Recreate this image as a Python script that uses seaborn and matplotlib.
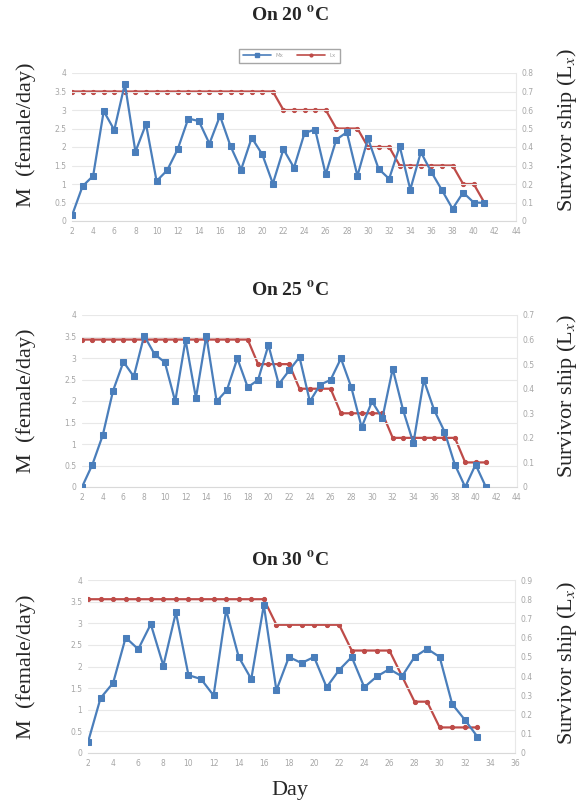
import numpy as np
import pandas as pd
import seaborn as sns
import matplotlib.pyplot as plt
from matplotlib.lines import Line2D
from matplotlib.ticker import FuncFormatter

# Data
days_20 = list(range(2, 42))
mx_20 = [0.15, 0.94, 1.22, 2.97, 2.46, 3.71, 1.87, 2.62, 1.08, 1.37,
         1.94, 2.77, 2.70, 2.09, 2.84, 2.02, 1.39, 2.25, 1.80, 1.01,
         1.94, 1.44, 2.38, 2.47, 1.26, 2.20, 2.40, 1.22, 2.23, 1.41,
         1.14, 2.02, 0.85, 1.86, 1.32, 0.83, 0.33, 0.77, 0.50, 0.49]
lx_20 = [0.7, 0.7, 0.7, 0.7, 0.7, 0.7, 0.7, 0.7, 0.7, 0.7,
         0.7, 0.7, 0.7, 0.7, 0.7, 0.7, 0.7, 0.7, 0.7, 0.7,
         0.6, 0.6, 0.6, 0.6, 0.6, 0.5, 0.5, 0.5, 0.4, 0.4,
         0.4, 0.3, 0.3, 0.3, 0.3, 0.3, 0.3, 0.2, 0.2, 0.1]

days_25 = list(range(2, 42))
mx_25 = [0.0, 0.52, 1.20, 2.24, 2.91, 2.57, 3.52, 3.09, 2.90, 1.99,
         3.42, 2.07, 3.52, 1.99, 2.26, 2.99, 2.32, 2.49, 3.30, 2.39,
         2.71, 3.02, 1.99, 2.38, 2.49, 2.99, 2.32, 1.39, 1.99, 1.60,
         2.75, 1.79, 1.02, 2.49, 1.79, 1.29, 0.52, 0.0, 0.52, 0.0]
lx_25 = [0.6, 0.6, 0.6, 0.6, 0.6, 0.6, 0.6, 0.6, 0.6, 0.6,
         0.6, 0.6, 0.6, 0.6, 0.6, 0.6, 0.6, 0.5, 0.5, 0.5,
         0.5, 0.4, 0.4, 0.4, 0.4, 0.3, 0.3, 0.3, 0.3, 0.3,
         0.2, 0.2, 0.2, 0.2, 0.2, 0.2, 0.2, 0.1, 0.1, 0.1]

days_30 = list(range(2, 34))
mx_30 = [0.25, 1.27, 1.62, 2.67, 2.40, 2.98, 2.02, 3.25, 1.80, 1.71,
         1.33, 3.31, 2.22, 1.71, 3.42, 1.45, 2.22, 2.08, 2.22, 1.52,
         1.92, 2.22, 1.52, 1.77, 1.94, 1.77, 2.22, 2.41, 2.22, 1.13,
         0.77, 0.38]
lx_30 = [0.8, 0.8, 0.8, 0.8, 0.8, 0.8, 0.8, 0.8, 0.8, 0.8,
         0.8, 0.8, 0.8, 0.8, 0.8, 0.667, 0.667, 0.667, 0.667, 0.667,
         0.667, 0.533, 0.533, 0.533, 0.533, 0.4, 0.267, 0.267, 0.133, 0.133,
         0.133, 0.133]

titles = ["20", "25", "30"]
x_max = [44, 44, 36]
lx_max = [0.8, 0.7, 0.9]

sns.set_style("white")
plt.rcParams['mathtext.fontset'] = 'stix'

blue = '#4A7EBB'
red = '#BE4B48'
grey = '#A6A6A6'
serif = 'Liberation Serif'

W, H = 579, 802
fig = plt.figure(figsize=(W / 100, H / 100), dpi=100)

# axes boxes in pixels: left, top, right, bottom
boxes = [(72, 73, 516, 221), (82, 315, 517, 487), (88, 580, 515, 753)]
panels = [(days_20, mx_20, lx_20), (days_25, mx_25, lx_25), (days_30, mx_30, lx_30)]
title_y = [15, 290, 560]
label_bottom = [207, 473, 739]
right_bottom = [212, 478, 745]

fmt = FuncFormatter(lambda v, p: f"{v:g}")

for i, (days, mx, lx) in enumerate(panels):
    l, t, r, b = boxes[i]
    ax = fig.add_axes([l / W, 1 - b / H, (r - l) / W, (b - t) / H])
    ax2 = ax.twinx()

    sns.lineplot(x=days, y=mx, ax=ax, color=blue, marker='s', markersize=5,
                 markeredgecolor=blue, linewidth=1.6, zorder=3)
    sns.lineplot(x=days, y=lx, ax=ax2, color=red, marker='o', markersize=3,
                 markeredgecolor=red, linewidth=1.6)
    ax.set_zorder(ax2.get_zorder() + 1)
    ax.patch.set_visible(False)

    ax.set_xlim(2, x_max[i])
    ax.set_xticks(np.arange(2, x_max[i] + 1, 2))
    ax.set_ylim(0, 4)
    ax.set_yticks(np.arange(0, 4.01, 0.5))
    ax2.set_ylim(0, lx_max[i])
    ax2.set_yticks(np.arange(0, lx_max[i] + 0.001, 0.1))
    ax.yaxis.set_major_formatter(fmt)
    ax2.yaxis.set_major_formatter(fmt)

    ax.grid(axis='y', color='#E8E8E8', linewidth=0.8)
    ax2.grid(False)
    for a in (ax, ax2):
        a.tick_params(length=0, labelsize=5.5, labelcolor=grey, pad=4)
        for s in a.spines.values():
            s.set_visible(False)
    ax.spines['bottom'].set_visible(True)
    ax.spines['bottom'].set_color('#D9D9D9')
    ax2.spines['right'].set_visible(True)
    ax2.spines['right'].set_color('#E8E8E8')
    ax.set_xlabel('')
    ax.set_ylabel('')
    ax2.set_ylabel('')

    fig.text(0.5, 1 - title_y[i] / H, r"On " + titles[i] + r" $^{\mathbf{o}}$C",
             ha='center', va='center', fontsize=14, fontweight='bold', family=serif)
    fig.text(26 / W, 1 - label_bottom[i] / H, "M  (female/day)", rotation=90,
             ha='center', va='bottom', fontsize=16, family=serif)
    fig.text(567 / W, 1 - right_bottom[i] / H, r"Survivor ship (L$_x$)", rotation=90,
             ha='center', va='bottom', fontsize=16, family=serif)

    if i == 0:
        handles = [Line2D([], [], color=blue, marker='s', markersize=3, linewidth=1.2),
                   Line2D([], [], color=red, marker='o', markersize=2, linewidth=1.2)]
        fig.legend(handles, ['Mx', 'Lx'], loc='upper center',
                   bbox_to_anchor=(0.5, 1 - 46 / H), ncol=2, fontsize=4,
                   frameon=True, fancybox=False, edgecolor='#909090',
                   labelcolor=grey, handlelength=5, columnspacing=2.5,
                   borderpad=0.8)

fig.text(290 / W, 1 - 790 / H, "Day", ha='center', va='center', fontsize=16, family=serif)

fig.savefig('out.png', dpi=100)
